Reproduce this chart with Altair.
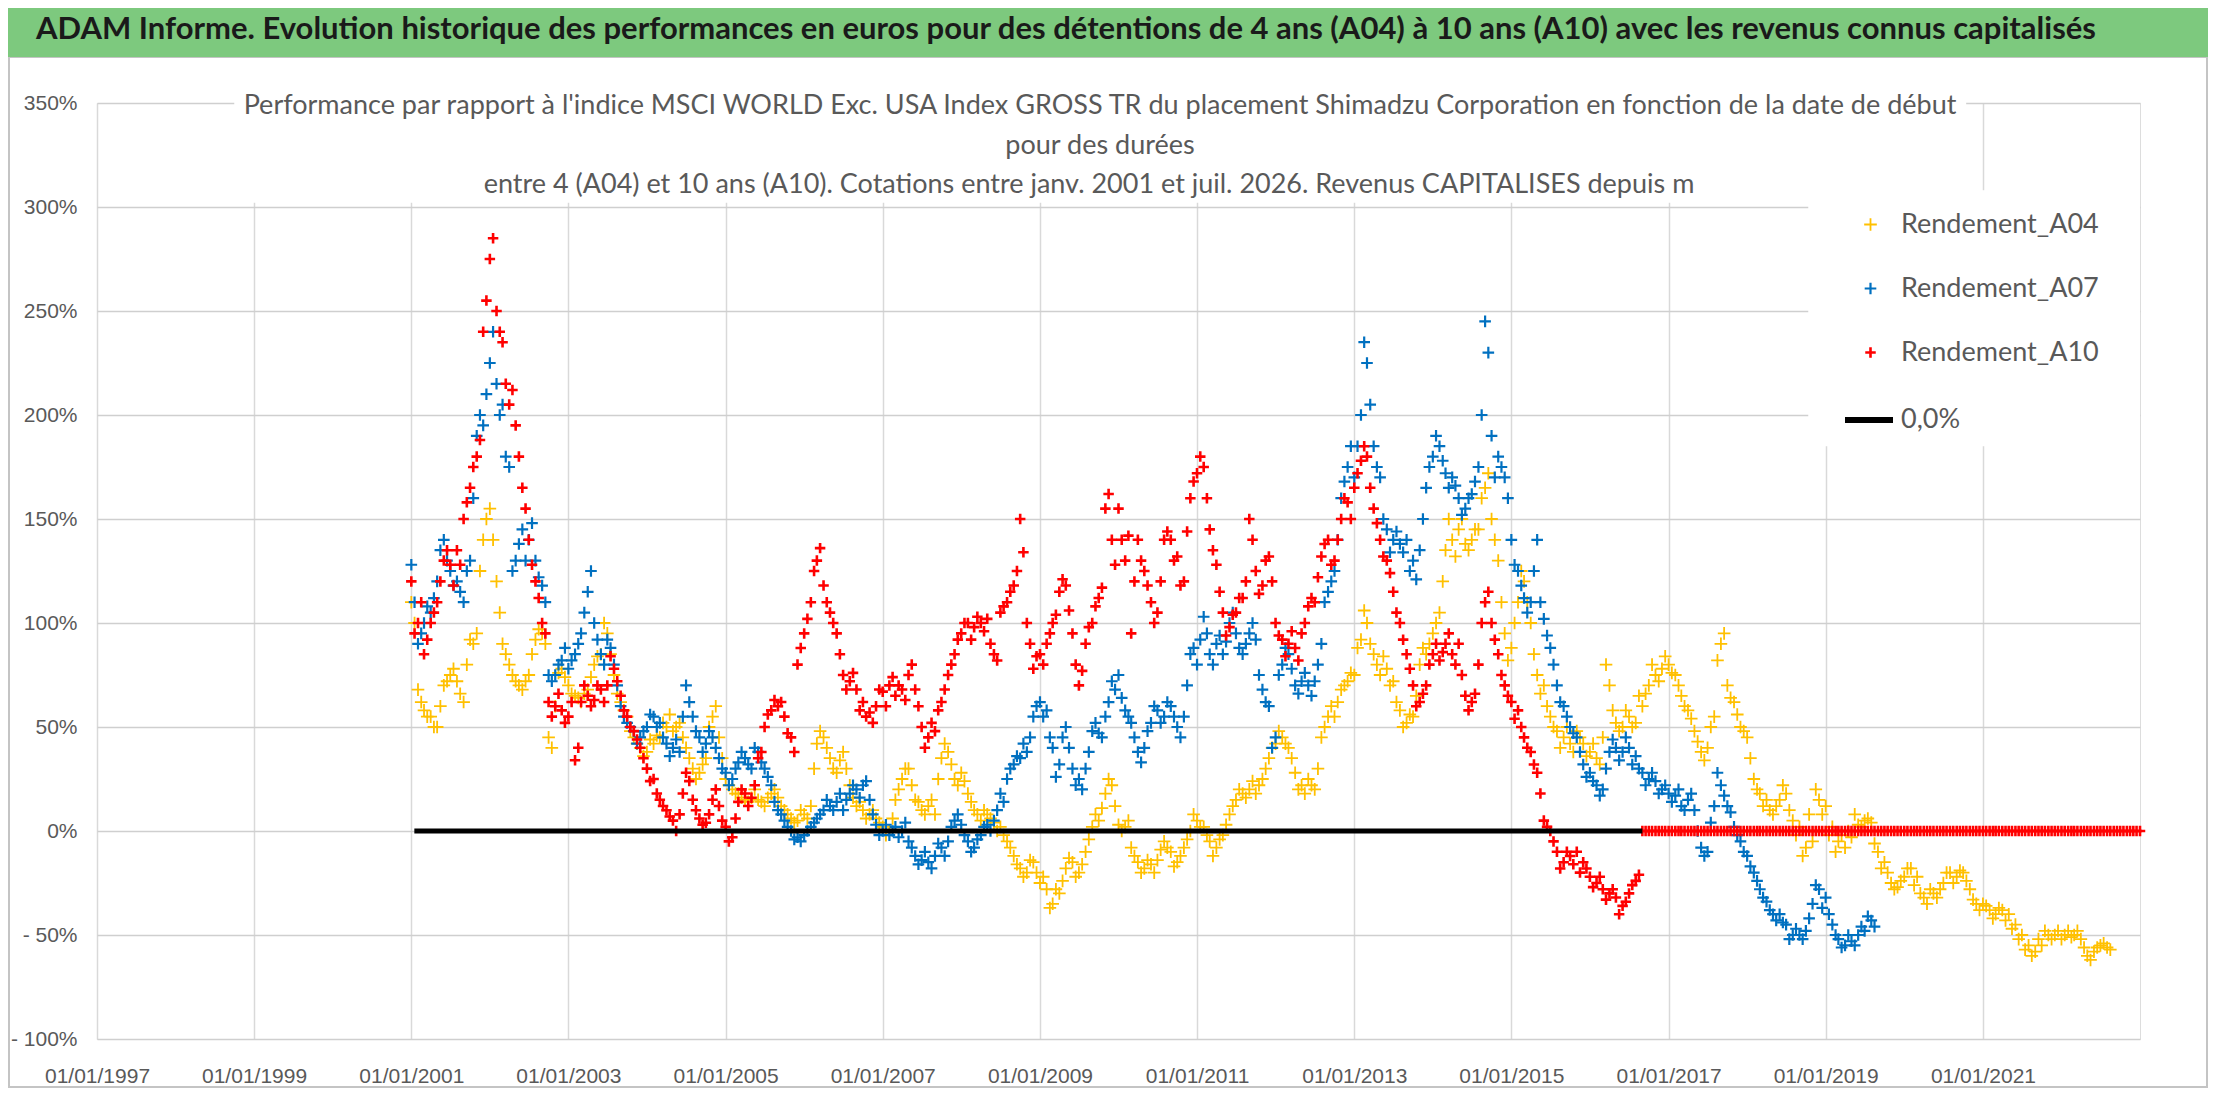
import altair as alt
import pandas as pd

# ---------------- data ----------------
series_names = ["Rendement_A04", "Rendement_A07", "Rendement_A10"]
series_colors = ["#FFC000", "#0070C0", "#FF0000"]
first_month = "2001-01-01"

# values read at the start of each month (%)
a04 = [
    110, 68, 58, 55, 50, 70, 75, 72, 62, 92, 95, 140,
    155, 120, 90, 80, 72, 68, 75, 92, 95, 45, 60, 78,
    70, 65, 62, 68, 80, 85, 95, 75, 62, 55, 45, 40,
    38, 42, 45, 50, 48, 52, 40, 30, 28, 35, 55, 45,
    25, 20, 18, 15, 16, 15, 12, 18, 16, 10, 6, 5,
    8, 12, 42, 45, 35, 28, 38, 22, 12, 10, 8, 6,
    2, 0, 15, 25, 30, 15, 10, 12, 8, 35, 38, 25,
    28, 18, 10, 5, 8, 4, 2, -5, -12, -18, -20, -15,
    -25, -28, -35, -30, -18, -15, -20, -10, 2, 5, 18, 22,
    3, 2, -8, -15, -18, -16, -14, -5, -10, -15, -8, 0,
    5, 2, -5, -8, -2, 8, 15, 18, 20, 18, 25, 35,
    42, 45, 40, 28, 22, 25, 20, 45, 55, 55, 68, 72,
    75, 92, 100, 85, 75, 78, 72, 58, 52, 55, 80, 85,
    95, 105, 135, 140, 145, 138, 140, 145, 165, 150, 130, 95,
    88, 110, 120, 100, 75, 70, 55, 48, 45, 42, 48, 42,
    38, 35, 45, 70, 52, 50, 55, 52, 60, 70, 75, 78,
    80, 75, 65, 58, 48, 38, 40, 55, 90, 70, 62, 50,
    45, 25, 18, 15, 8, 15, 18, 5, 2, -8, -5, 15,
    12, 2, -5, -8, -3, 3, 5, 4, -10, -15, -25, -27,
    -22, -18, -22, -32, -28, -32, -25, -20, -22, -20, -28, -35,
    -35, -38, -40, -38, -40, -45, -50, -55, -58, -55, -50, -50,
    -52, -48, -50, -52, -60, -58, -55, -56,
]
a07 = [
    128, 90, 100, 105, 120, 140, 125, 120, 110, 130, 190, 195,
    225, 215, 205, 175, 130, 145, 140, 130, 118, 75, 75, 82,
    78, 85, 95, 115, 100, 85, 92, 80, 60, 52, 48, 45,
    50, 55, 52, 42, 40, 38, 70, 55, 45, 42, 45, 35,
    28, 25, 33, 35, 30, 38, 30, 22, 10, 5, 0, -3,
    -2, 2, 6, 10, 12, 14, 10, 18, 20, 22, 15, 3,
    0, -2, 2, 0, -5, -12, -14, -15, -12, -8, -5, 5,
    3, -5, -8, -2, 3, 5, 18, 25, 32, 35, 38, 55,
    62, 58, 40, 32, 50, 30, 25, 30, 48, 47, 55, 72,
    75, 58, 52, 38, 40, 52, 58, 55, 60, 50, 55, 85,
    80, 103, 85, 90, 85, 100, 95, 85, 95, 92, 68, 60,
    45, 80, 85, 70, 72, 70, 72, 90, 115, 125, 160, 175,
    170, 200, 225, 185, 170, 145, 140, 138, 140, 130, 135, 165,
    180, 185, 172, 170, 160, 155, 162, 175, 245, 190, 180, 170,
    140, 125, 112, 110, 140, 102, 88, 70, 60, 50, 45, 32,
    28, 22, 20, 38, 40, 38, 40, 36, 28, 25, 24, 20,
    18, 17, 12, 15, 10, -8, -10, 12, 22, 12, 2, -5,
    -12, -20, -28, -34, -40, -40, -45, -50, -50, -48, -35, -28,
    -32, -45, -52, -55, -53, -50, -48, -43,
]
a10 = [
    120, 100, 85, 100, 110, 130, 128, 135, 150, 165, 180, 240,
    275, 250, 235, 205, 195, 165, 140, 120, 100, 62, 60, 58,
    55, 34, 62, 65, 63, 68, 70, 78, 65, 55, 48, 40,
    30, 25, 15, 10, 5, 8, 28, 15, 6, 4, 15, 12,
    2, -3, 14, 18, 16, 35, 50, 58, 60, 55, 45, 80,
    95, 110, 130, 118, 105, 95, 75, 72, 68, 62, 57, 60,
    67, 70, 65, 68, 75, 68, 50, 45, 48, 62, 75, 85,
    95, 100, 98, 100, 102, 85, 105, 110, 118, 150, 100, 78,
    85, 90, 100, 115, 118, 95, 70, 90, 100, 112, 155, 140,
    155, 130, 95, 140, 125, 110, 105, 140, 140, 132, 120, 160,
    172, 175, 145, 128, 105, 98, 105, 112, 150, 125, 118, 132,
    100, 92, 90, 88, 95, 108, 110, 132, 140, 130, 150, 158,
    165, 178, 180, 155, 140, 130, 115, 100, 85, 70, 62, 70,
    85, 82, 90, 85, 90, 65, 62, 80, 110, 100, 85, 70,
    62, 58, 45, 38, 28, 5, 0, -10, -15, -12, -10, -15,
    -22, -25, -28, -30, -32, -36, -30, -24, 0, 0, 0, 0,
    0, 0, 0, 0, 0, 0, 0, 0, 0, 0, 0, 0,
    0, 0, 0, 0, 0, 0, 0, 0, 0, 0, 0, 0,
    0, 0, 0, 0, 0, 0, 0, 0, 0, 0, 0, 0,
    0, 0, 0, 0, 0, 0, 0, 0, 0, 0, 0, 0,
    0, 0, 0, 0, 0, 0, 0, 0, 0, 0, 0, 0,
    0, 0, 0, 0, 0, 0, 0, 0, 0, 0, 0, 0,
    0,
]

# values read in the middle of each month (%), the other side of each cloud
a04_mid = [
    100, 62, 55, 50, 60, 72, 78, 66, 80, 90, 125, 150,
    140, 105, 85, 75, 70, 72, 85, 97, 90, 40, 76, 74,
    66, 64, 66, 74, 84, 100, 85, 66, 58, 48, 42, 36,
    44, 46, 52, 56, 50, 45, 35, 25, 32, 50, 60, 35,
    22, 18, 16, 14, 20, 14, 16, 20, 12, 8, 4, 10,
    6, 30, 48, 40, 30, 34, 30, 16, 14, 6, 10, 4,
    -2, 6, 20, 30, 22, 14, 8, 15, 25, 42, 32, 22,
    24, 14, 8, 10, 6, 0, -2, -8, -16, -22, -14, -20,
    -22, -37, -28, -24, -13, -22, -16, -4, 8, 11, 25, 12,
    0, 5, -12, -20, -14, -20, -9, -8, -17, -12, -4, 8,
    2, -2, -12, -4, 3, 12, 20, 16, 24, 22, 30, 40,
    48, 42, 35, 20, 18, 22, 30, 50, 60, 62, 70, 76,
    88, 106, 90, 80, 84, 70, 62, 50, 56, 65, 88, 90,
    100, 120, 150, 132, 150, 135, 145, 160, 172, 140, 110, 82,
    100, 125, 110, 85, 66, 60, 50, 40, 50, 38, 45, 36,
    42, 32, 80, 58, 48, 58, 50, 65, 66, 80, 72, 84,
    76, 70, 60, 54, 43, 34, 50, 82, 95, 64, 56, 48,
    35, 20, 12, 10, 12, 22, 10, -2, -12, 8, 20, 8,
    -2, -10, -2, 0, 8, 2, 6, -6, -18, -20, -28, -24,
    -18, -26, -30, -35, -30, -28, -20, -25, -19, -24, -33, -38,
    -36, -42, -37, -43, -47, -52, -57, -60, -52, -48, -52, -48,
    -50, -51, -48, -56, -62, -56, -54, -57,
]
a07_mid = [
    110, 95, 108, 112, 135, 130, 118, 115, 125, 160, 200, 210,
    240, 200, 180, 125, 138, 130, 148, 122, 110, 72, 80, 88,
    82, 90, 105, 125, 92, 80, 88, 70, 55, 50, 42, 48,
    56, 50, 45, 36, 44, 55, 62, 48, 38, 48, 40, 30,
    22, 30, 38, 32, 40, 33, 26, 14, 8, 2, -4, -5,
    0, 4, 8, 15, 10, 18, 15, 22, 16, 24, 8, -2,
    3, 0, -3, 4, -8, -16, -10, -18, -6, -12, 2, 8,
    -2, -10, -4, 2, 0, 10, 14, 30, 36, 42, 45, 60,
    55, 45, 26, 45, 40, 22, 20, 38, 52, 45, 62, 68,
    64, 55, 45, 33, 48, 60, 52, 62, 55, 45, 70, 88,
    92, 95, 80, 94, 91, 105, 88, 90, 100, 75, 62, 40,
    75, 88, 78, 66, 76, 65, 80, 110, 120, 140, 168, 185,
    185, 235, 205, 175, 150, 134, 144, 134, 125, 121, 150, 175,
    190, 178, 165, 166, 152, 160, 168, 200, 230, 170, 175, 160,
    128, 118, 105, 125, 110, 94, 80, 62, 55, 47, 38, 26,
    24, 17, 30, 44, 34, 45, 32, 30, 22, 28, 18, 22,
    14, 20, 10, 18, 0, -12, 4, 28, 17, 9, -2, -10,
    -17, -24, -32, -38, -43, -44, -52, -47, -52, -42, -26, -37,
    -40, -50, -56, -50, -55, -46, -41, -46,
]
a10_mid = [
    95, 110, 92, 105, 120, 135, 118, 128, 158, 175, 188, 255,
    285, 240, 215, 212, 180, 155, 128, 112, 95, 55, 66, 52,
    62, 40, 70, 60, 70, 62, 84, 72, 58, 50, 44, 35,
    24, 18, 12, 7, 0, 18, 24, 10, 3, 8, 20, 5,
    -5, 6, 20, 12, 22, 38, 56, 63, 62, 47, 38, 88,
    102, 125, 136, 110, 100, 85, 68, 76, 58, 55, 52, 68,
    60, 74, 70, 63, 80, 60, 40, 52, 58, 68, 80, 92,
    100, 92, 103, 96, 90, 82, 108, 115, 125, 134, 90, 84,
    80, 95, 104, 121, 106, 80, 77, 98, 108, 117, 162, 128,
    140, 142, 120, 130, 118, 100, 120, 144, 130, 118, 144, 168,
    180, 160, 135, 115, 94, 104, 112, 120, 140, 114, 130, 120,
    94, 84, 96, 82, 100, 112, 122, 138, 128, 140, 160, 150,
    172, 185, 165, 148, 132, 124, 105, 92, 78, 60, 66, 80,
    90, 86, 95, 80, 75, 58, 66, 100, 115, 92, 75, 65,
    54, 50, 40, 32, 18, 2, -5, -18, -10, -16, -20, -18,
    -27, -22, -33, -28, -40, -34, -26, -21, 0, 0, 0, 0,
    0, 0, 0, 0, 0, 0, 0, 0, 0, 0, 0, 0,
    0, 0, 0, 0, 0, 0, 0, 0, 0, 0, 0, 0,
    0, 0, 0, 0, 0, 0, 0, 0, 0, 0, 0, 0,
    0, 0, 0, 0, 0, 0, 0, 0, 0, 0, 0, 0,
    0, 0, 0, 0, 0, 0, 0, 0, 0, 0, 0, 0,
    0, 0, 0, 0, 0, 0, 0, 0, 0, 0, 0, 0,
]

zero_line_label = "0,0%"
zero_line_dates = ["2001-01-15", "2016-09-01"]
zero_line_values = [0, 0]

x_tick_years = [1997, 1999, 2001, 2003, 2005, 2007, 2009, 2011, 2013, 2015, 2017, 2019, 2021]
y_ticks = [-100, -50, 0, 50, 100, 150, 200, 250, 300, 350]

banner_text = ("ADAM Informe. Evolution historique des performances en euros pour des détentions "
               "de 4 ans (A04) à 10 ans (A10) avec les revenus connus capitalisés")
subtitle_lines = [
    "Performance par rapport à l'indice MSCI WORLD Exc. USA Index GROSS TR  du placement "
    "Shimadzu Corporation en fonction de la date de début",
    "pour des durées",
    "entre 4 (A04) et 10 ans (A10). Cotations entre janv. 2001 et juil. 2026. Revenus CAPITALISES depuis m",
]

# white areas hiding the grid behind the title and the legend (in data units)
mask_x = ["1998-10-01", "2018-10-12"]
mask_x2 = ["2020-10-15", "2023-01-01"]
mask_y = [302, 185]
mask_y2 = [353, 308]

# ---------------- tables ----------------
frames = []
for name, vals, mids in zip(series_names, [a04, a07, a10], [a04_mid, a07_mid, a10_mid]):
    d1 = pd.date_range(first_month, periods=len(vals), freq="MS")
    d2 = pd.date_range(first_month, periods=len(mids), freq="MS") + pd.Timedelta(days=15)
    frames.append(pd.DataFrame({"date": d1.strftime("%Y-%m-%d"), "value": vals, "serie": name}))
    frames.append(pd.DataFrame({"date": d2.strftime("%Y-%m-%d"), "value": mids, "serie": name}))
points = pd.concat(frames, ignore_index=True)

zero_df = pd.DataFrame({"date": zero_line_dates, "value": zero_line_values, "lab": zero_line_label})
mask_df = pd.DataFrame({"x": mask_x, "x2": mask_x2, "y": mask_y, "y2": mask_y2})

# ---------------- styling ----------------
W, H = 2043, 936
PAD_L, PAD_T = 89, 95
AX_FONT = "Liberation Sans, Arial, sans-serif"
LEG_FONT = "Lato, Liberation Sans, sans-serif"
GRAY = "#595959"
PLUS = "M-1,0L1,0M0,-1L0,1"

x_scale = alt.Scale(domain=[alt.DateTime(year=1997, month=1, date=1),
                            alt.DateTime(year=2023, month=1, date=1)])
y_scale = alt.Scale(domain=[-100, 350], nice=False, zero=False)

x_axis = alt.Axis(values=[alt.DateTime(year=y, month=1, date=1) for y in x_tick_years],
                  format="%d/%m/%Y", labelFlush=False, labelPadding=26, ticks=False, domain=False,
                  title=None, labelFont=AX_FONT, labelFontSize=21, labelColor=GRAY,
                  gridColor="#d9d9d9", gridWidth=1.5)
y_axis = alt.Axis(values=y_ticks, ticks=False, domain=False, title=None, labelPadding=20,
                  labelExpr="datum.value < 0 ? '- ' + (-datum.value) + '%' : datum.value + '%'",
                  labelFont=AX_FONT, labelFontSize=21, labelColor=GRAY,
                  gridColor="#cfcfcf", gridWidth=1.5)

masks = alt.Chart(mask_df).mark_rect(color="white").encode(
    x=alt.X("x:T", scale=x_scale, axis=x_axis),
    x2="x2:T",
    y=alt.Y("y:Q", scale=y_scale, axis=y_axis),
    y2="y2:Q",
)

pts = alt.Chart(points).mark_point(shape=PLUS, filled=False, opacity=1).encode(
    x=alt.X("date:T", scale=x_scale, axis=x_axis),
    y=alt.Y("value:Q", scale=y_scale, axis=y_axis),
    color=alt.Color("serie:N", scale=alt.Scale(domain=series_names, range=series_colors),
                    legend=alt.Legend(title=None, orient="none", legendX=1760, legendY=108,
                                      symbolType=PLUS, symbolSize=80, symbolStrokeWidth=2,
                                      labelFont=LEG_FONT, labelFontSize=27, labelColor=GRAY,
                                      labelOffset=17, labelLimit=400, rowPadding=36, padding=0)),
    size=alt.Size("serie:N", scale=alt.Scale(domain=series_names, range=[160, 110, 110]), legend=None),
    strokeWidth=alt.StrokeWidth("serie:N", scale=alt.Scale(domain=series_names, range=[1.8, 2.6, 2.6]),
                                legend=None),
)

zero_line = alt.Chart(zero_df).mark_line(color="black", strokeWidth=5).encode(
    x=alt.X("date:T", scale=x_scale, axis=x_axis),
    y=alt.Y("value:Q", scale=y_scale, axis=y_axis),
    strokeDash=alt.StrokeDash("lab:N", scale=alt.Scale(domain=[zero_line_label], range=[[1, 0]]),
                              legend=alt.Legend(title=None, orient="none", legendX=1745, legendY=290,
                                                symbolType="stroke", symbolStrokeColor="black",
                                                symbolStrokeWidth=6, symbolSize=2304,
                                                labelFont=LEG_FONT, labelFontSize=27, labelColor=GRAY,
                                                labelOffset=5, labelLimit=400, padding=0)),
)

frame = alt.Chart(pd.DataFrame({"k": [0]})).mark_rect(fillOpacity=0, stroke="#c4c4c4", strokeWidth=2).encode(
    x=alt.value(-PAD_L + 1), x2=alt.value(2200 - PAD_L - 1), y=alt.value(-46), y2=alt.value(984)
)
banner_bg = alt.Chart(pd.DataFrame({"k": [0]})).mark_rect(color="#7dc97e").encode(
    x=alt.value(-PAD_L), x2=alt.value(2200 - PAD_L), y=alt.value(-PAD_T), y2=alt.value(-46)
)
banner = alt.Chart(pd.DataFrame({"t": [banner_text]})).mark_text(
    font=LEG_FONT, fontSize=31, fontWeight="bold", color="#1a1a1a", align="center", baseline="middle"
).encode(text="t:N", x=alt.value(969), y=alt.value(-73))

sub_layers = []
for txt, xc, yc in zip(subtitle_lines, [1003, 1003, 992], [3, 43, 82]):
    sub_layers.append(
        alt.Chart(pd.DataFrame({"t": [txt]})).mark_text(
            font=LEG_FONT, fontSize=27, color=GRAY, align="center", baseline="middle"
        ).encode(text="t:N", x=alt.value(xc), y=alt.value(yc))
    )

chart = alt.layer(masks, pts, zero_line, frame, banner_bg, banner, *sub_layers).properties(
    width=W, height=H, autosize=alt.AutoSizeParams(type="none"),
    padding={"left": PAD_L, "top": PAD_T, "right": 2200 - PAD_L - W, "bottom": 50},
).configure_view(strokeWidth=0).configure(background="white")

chart.save("out.html", embed_options={"renderer": "svg", "actions": False})
